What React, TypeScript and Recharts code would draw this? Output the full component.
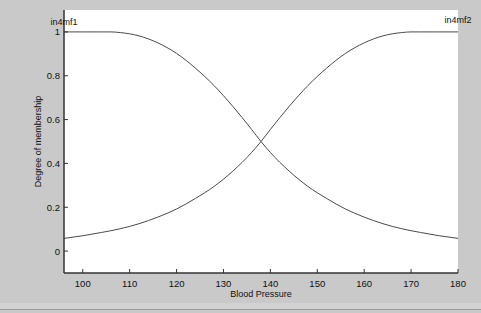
import React from "react";
import {
  LineChart,
  Line,
  XAxis,
  YAxis,
  CartesianGrid,
  ReferenceDot,
} from "recharts";

// blood pressure sample points and the two membership curves
const pressure = [96, 100, 104, 106, 108, 112, 116, 120, 124, 128, 132, 136, 138, 140, 144, 148, 152, 156, 160, 164, 168, 170, 172, 176, 180];
const mf1 = [1, 1, 1, 1, 0.997, 0.982, 0.95, 0.902, 0.835, 0.755, 0.66, 0.555, 0.5, 0.45, 0.365, 0.295, 0.24, 0.192, 0.155, 0.125, 0.102, 0.093, 0.085, 0.07, 0.058];
const mf2 = [0.058, 0.07, 0.085, 0.093, 0.102, 0.125, 0.155, 0.192, 0.24, 0.295, 0.365, 0.45, 0.5, 0.555, 0.66, 0.755, 0.835, 0.902, 0.95, 0.982, 0.997, 1, 1, 1, 1];

const xTicks = [100, 110, 120, 130, 140, 150, 160, 170, 180];
const yTicks = [0, 0.2, 0.4, 0.6, 0.8, 1];

const data = pressure.map((p, i) => ({ p, mf1: mf1[i], mf2: mf2[i] }));

const FONT = "'Liberation Sans', Arial, sans-serif";
const AXIS = "#333";

const BottomTick = (props: any) => {
  const { x, y, payload } = props;
  return (
    <g>
      <line x1={x} x2={x} y1={y} y2={y - 4} stroke={AXIS} />
      <text x={x} y={y + 14} textAnchor="middle" fontSize={9.5} fontFamily={FONT} fill="#111">
        {payload.value}
      </text>
    </g>
  );
};

const TopTick = (props: any) => {
  const { x, y } = props;
  return <line x1={x} x2={x} y1={y} y2={y + 4} stroke={AXIS} />;
};

const LeftTick = (props: any) => {
  const { x, y, payload } = props;
  return (
    <g>
      <line x1={x} x2={x + 4} y1={y} y2={y} stroke={AXIS} />
      <text x={x - 4} y={y + 3.5} textAnchor="end" fontSize={9.5} fontFamily={FONT} fill="#111">
        {payload.value}
      </text>
    </g>
  );
};

const RightTick = (props: any) => {
  const { x, y } = props;
  return <line x1={x - 4} x2={x} y1={y} y2={y} stroke={AXIS} />;
};

export default function App() {
  return (
    <div
      style={{
        position: "fixed",
        left: 0,
        top: 0,
        width: 481,
        height: 313,
        background: "#c9c9c9",
      }}
    >
      <LineChart
        width={481}
        height={313}
        data={data}
        margin={{ top: 10, right: 23, bottom: 0, left: 0 }}
      >
        <CartesianGrid fill="#fff" horizontal={false} vertical={false} />
        <XAxis
          dataKey="p"
          type="number"
          domain={[96, 180]}
          ticks={xTicks}
          allowDataOverflow
          height={40}
          tickSize={0}
          tickMargin={0}
          tick={BottomTick}
          axisLine={{ stroke: AXIS, strokeWidth: 1.5 }}
          label={{
            value: "Blood Pressure",
            position: "insideBottom",
            offset: 16,
            fontSize: 9,
            fontFamily: FONT,
            fill: "#111",
          }}
        />
        <XAxis
          xAxisId="top"
          dataKey="p"
          type="number"
          orientation="top"
          domain={[96, 180]}
          ticks={xTicks}
          allowDataOverflow
          height={0}
          tickSize={0}
          tickMargin={0}
          tick={TopTick}
          axisLine={{ stroke: AXIS, strokeWidth: 1.5 }}
        />
        <YAxis
          type="number"
          domain={[-0.1, 1.1]}
          ticks={yTicks}
          allowDataOverflow
          width={64}
          tickSize={0}
          tickMargin={0}
          tick={LeftTick}
          axisLine={{ stroke: AXIS, strokeWidth: 1.5 }}
          label={{
            value: "Degree of membership",
            position: "insideLeft",
            content: (p: any) => {
              const vb = p.viewBox || {};
              const cx = (vb.x ?? 0) + 41;
              const cy = (vb.y ?? 10) + (vb.height ?? 263) / 2;
              return (
                <text
                  x={cx}
                  y={cy}
                  transform={`rotate(-90 ${cx} ${cy})`}
                  textAnchor="middle"
                  fontSize={9}
                  fontFamily={FONT}
                  fill="#111"
                >
                  Degree of membership
                </text>
              );
            },
          }}
        />
        <YAxis
          yAxisId="right"
          type="number"
          orientation="right"
          domain={[-0.1, 1.1]}
          ticks={yTicks}
          allowDataOverflow
          width={0}
          tickSize={0}
          tickMargin={0}
          tick={RightTick}
          axisLine={{ stroke: AXIS, strokeWidth: 1.5 }}
        />
        <Line
          type="monotone"
          dataKey="mf1"
          stroke="#4a4a4a"
          strokeWidth={1}
          dot={false}
          isAnimationActive={false}
        />
        <Line
          type="monotone"
          dataKey="mf2"
          stroke="#4a4a4a"
          strokeWidth={1}
          dot={false}
          isAnimationActive={false}
        />
        <ReferenceDot
          x={96}
          y={1}
          r={0}
          ifOverflow="visible"
          label={{ value: "in4mf1", position: "top", offset: 7, fontSize: 9, fontFamily: FONT, fill: "#111" }}
        />
        <ReferenceDot
          x={180}
          y={1}
          r={0}
          ifOverflow="visible"
          label={{ value: "in4mf2", position: "top", offset: 9, fontSize: 9, fontFamily: FONT, fill: "#111" }}
        />
      </LineChart>
      <div style={{ position: "absolute", left: 0, top: 303, width: 481, height: 6, background: "#d2d2d2" }} />
      <div style={{ position: "absolute", left: 0, top: 309, width: 481, height: 1, background: "#9a9a9a" }} />
    </div>
  );
}
